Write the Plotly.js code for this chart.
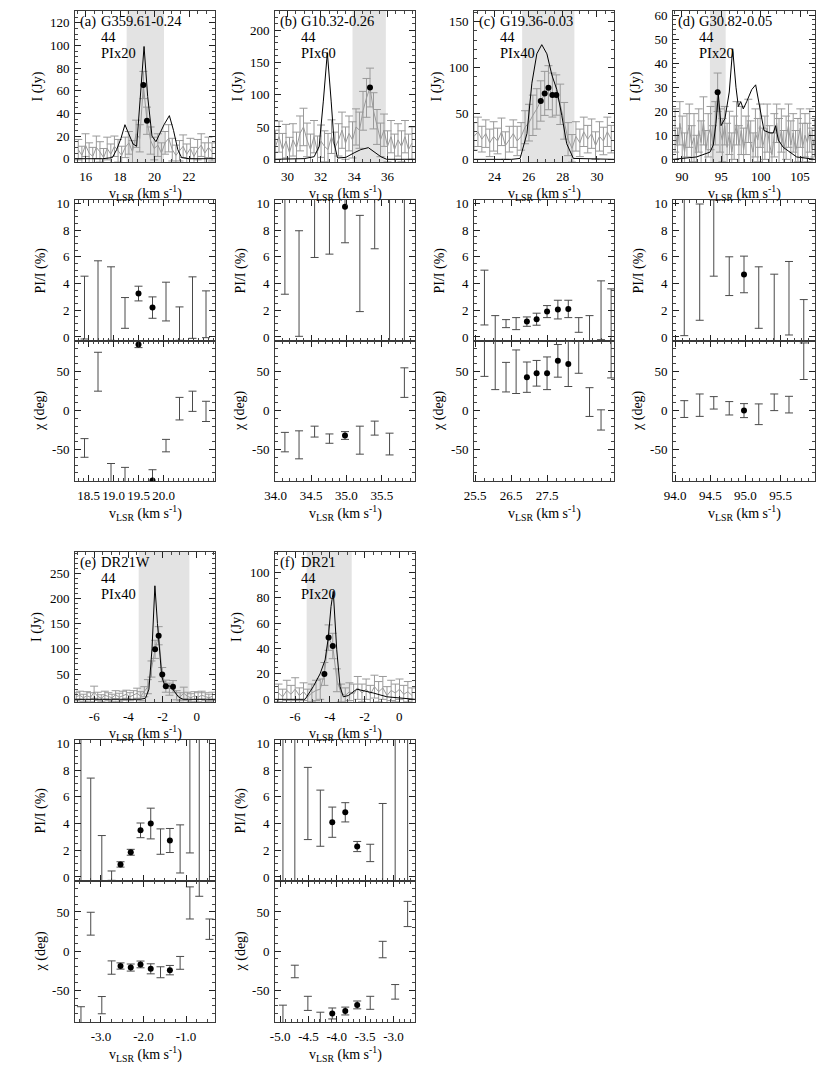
<!DOCTYPE html>
<html><head><meta charset="utf-8">
<script src="https://cdn.plot.ly/plotly-3.0.1.min.js"></script>
<style>html,body{margin:0;padding:0;background:#fff}#chart{width:830px;height:1081px}</style>
</head><body><div id="chart"></div>
<script>
// ---------------- panel texts ----------------
const panelLabels = ['(a)', '(b)', '(c)', '(d)', '(e)', '(f)'];
const panelNames = ['G359.61-0.24', 'G10.32-0.26', 'G19.36-0.03', 'G30.82-0.05', 'DR21W', 'DR21'];
const panelLine2 = ['44', '44', '44', '44', '44', '44'];
const panelFactor = ['PIx20', 'PIx60', 'PIx40', 'PIx20', 'PIx40', 'PIx20'];

// ---------------- shaded velocity ranges ----------------
const a_band = [18.38, 20.55];
const b_band = [33.9, 35.9];
const c_band = [25.62, 28.68];
const d_band = [93.55, 95.55];
const e_band = [-3.4, -0.43];
const f_band = [-5.33, -2.74];

// ---------------- Stokes I spectra (black) ----------------
const a_Iv = [15.38, 16.0, 17.0, 17.55, 17.8, 18.05, 18.28, 18.5, 18.75, 18.96, 19.17, 19.39, 19.6, 19.85, 20.08, 20.3, 20.55, 20.86, 21.1, 21.35, 21.57, 22.0, 23.51];
const a_I  = [0, 0, 0, 1, 8, 18, 30, 22, 13, 11, 50, 99, 55, 20, 15, 22, 30, 38, 25, 8, 1, 0, 0];
const b_Iv = [29.25, 31.0, 31.6, 31.9, 32.15, 32.39, 32.62, 32.8, 33.0, 33.5, 34.0, 34.4, 34.85, 35.2, 35.6, 35.95, 37.65];
const b_I  = [0, 1, 4, 20, 90, 165, 90, 25, 2, 3, 10, 15, 18, 12, 4, 0, 0];
const c_Iv = [22.8, 25.0, 25.5, 25.9, 26.19, 26.48, 26.77, 27.07, 27.36, 27.65, 27.94, 28.23, 28.62, 31.0];
const c_I  = [0, 0, 1, 28, 83, 115, 125, 115, 92, 76, 48, 17, 1, 0];
const d_Iv = [88.86, 91.86, 93.56, 93.98, 94.32, 94.62, 94.96, 95.46, 96.01, 96.44, 96.86, 97.16, 97.46, 97.79, 98.22, 98.86, 99.36, 99.78, 100.42, 101.18, 101.6, 101.9, 102.24, 102.87, 104.57, 106.9];
const d_I  = [0, 1, 3, 6, 15, 27, 14, 17, 28, 46, 30, 22, 24, 21, 24, 29, 31, 24, 12, 11, 11, 14, 8, 5, 1, 0];
const e_Iv = [-7.13, -3.3, -3.0, -2.8, -2.62, -2.45, -2.3, -2.15, -2.05, -1.9, -1.7, -1.5, -1.3, -1.05, -0.8, 1.07];
const e_I  = [0, 0, 2, 20, 100, 225, 150, 75, 45, 30, 27, 25, 15, 4, 0, 0];
const f_Iv = [-7.15, -5.42, -4.95, -4.56, -4.27, -4.08, -3.93, -3.80, -3.60, -3.41, -3.22, -2.93, -2.45, -2.07, -1.50, -0.72, 0.9];
const f_I  = [0, 0, 10, 20, 31, 49, 73, 85, 39, 10, 2, 3, 8, 7, 5, 2, 0];

// ---------------- scaled PI spectra (gray, with errors) ----------------
const a_Pv = [15.57, 15.78, 15.99, 16.20, 16.41, 16.62, 16.83, 17.04, 17.25, 17.46, 17.67, 17.88, 18.09, 18.30, 18.51, 18.72, 18.93, 19.14, 19.35, 19.56, 19.77, 19.98, 20.19, 20.40, 20.61, 20.82, 21.03, 21.24, 21.45, 21.66, 21.87, 22.08, 22.29, 22.50, 22.71, 22.92, 23.13, 23.34];
const a_P  = [8, 3, 12, 5, 2, 10, 6, 1, 9, 4, 11, 7, 3, 10, 14, 6, 22, 18, 65, 33.5, 16, 9, 12, 5, 14, 18, 8, 3, 7, 11, 4, 9, 2, 8, 12, 5, 10, 6];
const a_Pe = [9, 8, 10, 9, 8, 10, 9, 8, 10, 9, 9, 10, 8, 9, 10, 10, 12, 12, 12, 12, 12, 10, 10, 9, 10, 12, 10, 9, 9, 10, 9, 9, 8, 9, 10, 9, 9, 8];
const b_Pv = [29.28, 29.49, 29.70, 29.91, 30.12, 30.33, 30.54, 30.75, 30.96, 31.17, 31.38, 31.59, 31.80, 32.01, 32.22, 32.43, 32.64, 32.85, 33.06, 33.27, 33.48, 33.69, 33.90, 34.11, 34.32, 34.53, 34.74, 34.95, 35.16, 35.37, 35.58, 35.79, 36.00, 36.21, 36.42, 36.63, 36.84, 37.05, 37.26, 37.47];
const b_P  = [20, 35, 15, 28, 10, 30, 18, 40, 50, 30, 15, 35, 12, 28, 20, 15, 35, 18, 30, 45, 25, 40, 30, 50, 45, 75, 95, 111, 75, 50, 30, 45, 20, 35, 15, 30, 20, 35, 15, 25];
const b_Pe = [25, 24, 25, 26, 24, 25, 24, 27, 29, 26, 24, 25, 24, 25, 24, 25, 26, 24, 25, 28, 25, 27, 28, 28, 28, 30, 30, 30, 28, 27, 26, 25, 24, 25, 24, 25, 24, 25, 24, 25];
const c_Pv = [22.80, 23.03, 23.26, 23.49, 23.72, 23.95, 24.18, 24.41, 24.64, 24.87, 25.10, 25.33, 25.56, 25.79, 26.02, 26.25, 26.48, 26.71, 26.94, 27.16, 27.39, 27.62, 27.85, 28.08, 28.31, 28.54, 28.77, 29.00, 29.23, 29.46, 29.69, 29.92, 30.15, 30.38, 30.61, 30.84];
const c_P  = [25, 30, 22, 28, 18, 25, 20, 30, 15, 22, 28, 20, 25, 35, 40, 48, 55, 63.6, 71.9, 78.1, 70.1, 70.1, 60, 42, 22, 12, 25, 18, 30, 22, 28, 15, 25, 20, 30, 22];
const c_Pe = [15, 16, 14, 15, 15, 16, 14, 15, 15, 14, 15, 16, 15, 18, 20, 22, 22, 22, 24, 24, 24, 22, 22, 20, 18, 15, 16, 15, 16, 15, 16, 15, 16, 15, 16, 15];
const d_Pv = [89.13, 89.43, 89.73, 90.03, 90.33, 90.63, 90.93, 91.23, 91.53, 91.83, 92.13, 92.43, 92.73, 93.03, 93.33, 93.63, 93.93, 94.23, 94.53, 94.83, 95.13, 95.43, 95.73, 96.03, 96.33, 96.63, 96.93, 97.23, 97.53, 97.83, 98.13, 98.43, 98.73, 99.03, 99.33, 99.63, 99.93, 100.23, 100.53, 100.83, 101.13, 101.43, 101.73, 102.03, 102.33, 102.63, 102.93, 103.23, 103.53, 103.83, 104.13, 104.43, 104.73, 105.03, 105.33, 105.63, 105.93, 106.23, 106.53, 106.83];
const d_P  = [12, 5, 15, 8, 3, 10, 14, 6, 9, 2, 12, 7, 16, 4, 10, 13, 6, 15, 27.9, 12, 8, 14, 5, 11, 3, 9, 15, 6, 12, 4, 10, 16, 7, 3, 11, 8, 14, 5, 9, 13, 6, 2, 10, 15, 7, 12, 4, 9, 14, 6, 11, 3, 8, 13, 5, 10, 7, 12, 4, 9];
const d_Pe = [9, 8, 9, 10, 8, 9, 9, 8, 10, 8, 9, 9, 10, 8, 9, 9, 8, 9, 8, 9, 9, 8, 10, 9, 8, 9, 9, 8, 10, 9, 8, 9, 9, 8, 10, 9, 9, 8, 9, 10, 8, 9, 9, 8, 10, 9, 8, 9, 9, 10, 8, 9, 9, 8, 10, 9, 8, 9, 9, 8];
const e_Pv = [-7.06, -6.85, -6.64, -6.43, -6.22, -6.01, -5.80, -5.59, -5.38, -5.17, -4.96, -4.75, -4.54, -4.33, -4.12, -3.91, -3.70, -3.49, -3.28, -3.07, -2.86, -2.65, -2.44, -2.23, -2.02, -1.81, -1.60, -1.39, -1.18, -0.97, -0.76, -0.55, -0.34, -0.13, 0.08, 0.29, 0.50, 0.71, 0.92];
const e_P  = [5, 8, 3, 7, 4, 14, 6, 2, 8, 5, 3, 9, 4, 7, 10, 5, 8, 12, 6, 15, 25, 60, 99, 126, 49, 26, 20, 25, 8, 5, 12, 6, 3, 7, 4, 8, 5, 3, 6];
const e_Pe = [8, 8, 7, 8, 9, 12, 8, 7, 8, 8, 7, 8, 8, 9, 8, 8, 9, 10, 9, 10, 14, 16, 18, 18, 14, 12, 12, 12, 9, 8, 12, 8, 8, 8, 9, 8, 8, 7, 8];
const f_Pv = [-6.95, -6.71, -6.47, -6.23, -5.99, -5.75, -5.51, -5.27, -5.03, -4.79, -4.55, -4.31, -4.07, -3.83, -3.59, -3.35, -3.11, -2.87, -2.63, -2.39, -2.15, -1.91, -1.67, -1.43, -1.19, -0.95, -0.71, -0.47, -0.23, 0.01, 0.25, 0.49, 0.73];
const f_P  = [5, 2, 7, 4, 8, 3, 6, 2, 5, 7, 8, 20, 48.6, 42, 15, 5, 3, 6, 4, 9, 5, 8, 4, 10, 6, 9, 3, 7, 5, 8, 4, 6, 3];
const f_Pe = [7, 6, 8, 7, 9, 6, 7, 6, 7, 8, 8, 9, 10, 10, 9, 7, 6, 7, 8, 9, 7, 8, 7, 9, 8, 9, 7, 8, 7, 8, 7, 8, 6];

// ---------------- detected channels in the I panels (dots) ----------------
const a_dotv = [19.35, 19.56];                       const a_dotI = [65, 33.5];
const b_dotv = [34.95];                              const b_dotI = [111];
const c_dotv = [26.71, 26.94, 27.16, 27.39, 27.62];  const c_dotI = [63.6, 71.9, 78.1, 70.1, 70.1];
const d_dotv = [94.53];                              const d_dotI = [27.9];
const e_dotv = [-2.44, -2.23, -2.02, -1.81, -1.39];  const e_dotI = [99, 126, 49, 26, 25];
const f_dotv = [-4.31, -4.07, -3.83];                const f_dotI = [20, 48.6, 42];

// ---------------- PI/I (%) and chi (deg) per channel ----------------
const a_fv   = [18.42, 18.69, 18.95, 19.23, 19.50, 19.78, 20.05, 20.32, 20.58, 20.85];
const a_f    = [2.2, 2.3, 2.5, 1.8, 3.25, 2.2, 2.65, 1.0, 2.2, 1.7];
const a_fe   = [2.35, 3.4, 2.75, 1.15, 0.55, 0.8, 1.45, 1.25, 2.3, 1.75];
const a_chi  = [-48, 50, -85, -88, 85, -90, -45, 2.5, 12, -1];
const a_chie = [12, 25, 17, 15, 4, 14, 8, 14.5, 13, 13];
const a_sig  = [0, 0, 0, 0, 1, 1, 0, 0, 0, 0];

const b_fv   = [34.13, 34.33, 34.55, 34.76, 34.98, 35.19, 35.40, 35.61, 35.82];
const b_f    = [7.2, 4.0, 8.8, 8.3, 9.75, 5.5, 9.0, 6.1, 5.0];
const b_fe   = [4.0, 3.95, 2.85, 2.1, 2.7, 3.6, 2.4, 7.0, 8.0];
const b_chi  = [-40.5, -44, -27, -36, -32, -38, -22.5, -43, 36];
const b_chie = [12.5, 18, 7, 6, 5, 18, 9, 14, 19];
const b_sig  = [0, 0, 0, 0, 1, 0, 0, 0, 0];

const c_fv   = [25.76, 26.06, 26.36, 26.64, 26.94, 27.21, 27.50, 27.80, 28.09, 28.38, 28.68, 29.00, 29.28];
const c_f    = [2.95, 0.3, 1.0, 1.0, 1.15, 1.33, 1.9, 2.05, 2.1, 0.9, 0.1, 2.0, 1.5];
const c_fe   = [2.05, 1.3, 0.3, 0.45, 0.35, 0.45, 0.45, 0.7, 0.65, 0.55, 1.5, 2.2, 2.1];
const c_chi  = [68, 62, 43, 50, 43, 48, 48, 64, 60, 75, 11, -12, 70];
const c_chie = [24, 35, 19, 28, 19.5, 16.5, 21, 21, 29, 27, 18.5, 13, 28];
const c_sig  = [0, 0, 0, 0, 1, 1, 1, 1, 1, 0, 0, 0, 0];

const d_fv   = [94.13, 94.35, 94.55, 94.77, 94.98, 95.19, 95.41, 95.62, 95.83];
const d_f    = [6.8, 5.6, 7.4, 4.55, 4.68, 2.95, 1.7, 2.9, 0.8];
const d_fe   = [6.7, 4.35, 2.85, 1.45, 1.37, 2.3, 3.0, 2.75, 2.0];
const d_chi  = [2, 7, 10, 3, 0, -4.7, 10.7, 7.7, 63.5];
const d_chie = [10.8, 14.4, 8, 8.6, 9, 13.3, 10.7, 10.7, 23.5];
const d_sig  = [0, 0, 0, 0, 1, 0, 0, 0, 0];

const e_fv   = [-3.47, -3.24, -2.98, -2.75, -2.54, -2.30, -2.07, -1.83, -1.60, -1.38, -1.14, -0.91, -0.69, -0.45];
const e_f    = [5, 3.5, 1.3, 0.1, 0.94, 1.85, 3.49, 4.0, 2.65, 2.73, 2.1, 7.0, 5, 5];
const e_fe   = [8, 3.9, 1.8, 0.35, 0.2, 0.22, 0.55, 1.15, 0.95, 0.9, 1.8, 5.2, 8, 8];
const e_chi  = [-88, 35, -69, -21, -19, -21, -17, -22.6, -27, -24.3, -15, 61.5, 85, 28];
const e_chie = [17, 14.6, 11, 8.5, 4, 4.5, 4.3, 6.4, 7, 6, 8.2, 20.5, 15, 13];
const e_sig  = [0, 0, 0, 0, 1, 1, 1, 1, 0, 1, 0, 0, 0, 0];

const f_fv   = [-4.95, -4.74, -4.51, -4.29, -4.08, -3.85, -3.64, -3.41, -3.19, -2.97, -2.75];
const f_f    = [5, 5, 5.5, 4.4, 4.1, 4.84, 2.28, 1.8, 2.5, 5, 5];
const f_fe   = [8, 8, 2.7, 2.1, 1.13, 0.72, 0.38, 0.65, 3, 8, 8];
const f_chi  = [-85, -26, -66.7, -88, -79.6, -76.5, -68.7, -66, 2, -52, 47.4];
const f_chie = [16, 8, 9, 10, 7, 5, 5, 8.3, 10.5, 9.3, 16.1];
const f_sig  = [0, 0, 0, 0, 1, 1, 1, 0, 0, 0, 0];

// ---------------- tick labels ----------------
const a_fticks = [18.5, 19.0, 19.5, 20.0];
const b_fticks = [34.0, 34.5, 35.0, 35.5];
const c_fticks = [25.5, 26.5, 27.5];
const d_fticks = [94.0, 94.5, 95.0, 95.5];
const e_fticks = [-3.0, -2.0, -1.0];
const f_fticks = [-5.0, -4.5, -4.0, -3.5, -3.0];
const e_Iticks = [-6, -4, -2, 0];
const f_Iticks = [-6, -4, -2, 0];
const chiTicks = [-50, 0, 50];

// ---------------- assemble ----------------
const SER = [
  {band:a_band, Iv:a_Iv, I:a_I, Pv:a_Pv, P:a_P, Pe:a_Pe, dv:a_dotv, dI:a_dotI, fv:a_fv, f:a_f, fe:a_fe, chi:a_chi, chie:a_chie, sig:a_sig, ft:a_fticks, it:null},
  {band:b_band, Iv:b_Iv, I:b_I, Pv:b_Pv, P:b_P, Pe:b_Pe, dv:b_dotv, dI:b_dotI, fv:b_fv, f:b_f, fe:b_fe, chi:b_chi, chie:b_chie, sig:b_sig, ft:b_fticks, it:null},
  {band:c_band, Iv:c_Iv, I:c_I, Pv:c_Pv, P:c_P, Pe:c_Pe, dv:c_dotv, dI:c_dotI, fv:c_fv, f:c_f, fe:c_fe, chi:c_chi, chie:c_chie, sig:c_sig, ft:c_fticks, it:null},
  {band:d_band, Iv:d_Iv, I:d_I, Pv:d_Pv, P:d_P, Pe:d_Pe, dv:d_dotv, dI:d_dotI, fv:d_fv, f:d_f, fe:d_fe, chi:d_chi, chie:d_chie, sig:d_sig, ft:d_fticks, it:null},
  {band:e_band, Iv:e_Iv, I:e_I, Pv:e_Pv, P:e_P, Pe:e_Pe, dv:e_dotv, dI:e_dotI, fv:e_fv, f:e_f, fe:e_fe, chi:e_chi, chie:e_chie, sig:e_sig, ft:e_fticks, it:e_Iticks},
  {band:f_band, Iv:f_Iv, I:f_I, Pv:f_Pv, P:f_P, Pe:f_Pe, dv:f_dotv, dI:f_dotI, fv:f_fv, f:f_f, fe:f_fe, chi:f_chi, chie:f_chie, sig:f_sig, ft:f_fticks, it:f_Iticks}
];

// layout geometry (pixels) and axis ranges
const W = 830, H = 1081;
const COLS = [[75,215],[275,415],[474,614],[673,815],[75,215],[275,415]];
const ROWS = [{I:[11,162], P:[200,341], C:[341,481]}, {I:[552,702], P:[740,881], C:[881,1022]}];
const AX = [
  {row:0, Ix:[15.38,23.51], Ixd:2, Ixm:0.5, Iy:[-2.9,130.3], Iyd:20, Iym:5,  Fx:[18.23,21.03], Fxm:0.1},
  {row:0, Ix:[29.25,37.65], Ixd:2, Ixm:0.5, Iy:[-4.2,229.4], Iyd:50, Iym:10, Fx:[33.99,35.97], Fxm:0.1},
  {row:0, Ix:[22.8,31.0],   Ixd:2, Ixm:0.5, Iy:[-2.9,161.7], Iyd:50, Iym:10, Fx:[25.47,29.36], Fxm:0.25},
  {row:0, Ix:[88.86,106.9], Ixd:5, Ixm:1,   Iy:[-1.1,61.7],  Iyd:10, Iym:2,  Fx:[93.97,95.99], Fxm:0.1},
  {row:1, Ix:[-7.13,1.07],  Ixd:2, Ixm:0.5, Iy:[-5.4,292],   Iyd:50, Iym:10, Fx:[-3.61,-0.32], Fxm:0.25},
  {row:1, Ix:[-7.15,0.9],   Ixd:2, Ixm:0.5, Iy:[-2.1,116],   Iyd:20, Iym:5,  Fx:[-5.09,-2.62], Fxm:0.1}
];

const FONT = 'Liberation Serif';
const LINEC = '#3a3a3a';
function axis(o) {
  const base = {
    showline: true, linecolor: LINEC, linewidth: 1, mirror: 'allticks',
    ticks: 'inside', ticklen: 6, tickwidth: 1, tickcolor: '#222',
    showgrid: false, zeroline: false, fixedrange: true, tickangle: 0,
    tickfont: {family: FONT, size: 13, color: '#000'},
    ticklabelstandoff: 2
  };
  const minor = Object.assign({ticks: 'inside', ticklen: 3, tickwidth: 1, tickcolor: '#444', showgrid: false}, o.minor || {});
  const r = Object.assign(base, o);
  r.minor = minor;
  return r;
}
// hyphen-minus tick texts, as in the reference
const txt = (vals, dec) => vals.map(v => v.toFixed(dec));
const sfx = n => (n === 1 ? '' : String(n));

const traces = [], shapes = [], annotations = [];
const layout = {
  width: W, height: H, margin: {l:0, r:0, t:0, b:0}, showlegend: false,
  paper_bgcolor: '#fff', plot_bgcolor: 'rgba(0,0,0,0)',
  font: {family: FONT, size: 13, color: '#000'}
};
const XTITLE = 'v<sub>LSR</sub> (km s<sup>-1</sup>)';
const ERRC = '#4a4a4a';
const GRAY = '#9a9a9a';

SER.forEach((S, i) => {
  const A = AX[i], col = COLS[i], R = ROWS[A.row];
  const nI = i*3 + 1, nP = i*3 + 2, nC = i*3 + 3;
  const xd = [col[0]/W, col[1]/W];
  const dom = r => [1 - r[1]/H, 1 - r[0]/H];

  // ---- axes ----
  const ix = S.it ? {tickmode: 'array', tickvals: S.it, ticktext: txt(S.it, 0)} : {dtick: A.Ixd, tick0: 0};
  layout['xaxis' + sfx(nI)] = axis(Object.assign({domain: xd, range: A.Ix, anchor: 'y' + sfx(nI), minor: {dtick: A.Ixm, tick0: 0}}, ix));
  layout['yaxis' + sfx(nI)] = axis({domain: dom(R.I), range: A.Iy, dtick: A.Iyd, tick0: 0, anchor: 'x' + sfx(nI), minor: {dtick: A.Iym}});
  layout['xaxis' + sfx(nP)] = axis({domain: xd, range: A.Fx, tickmode: 'array', tickvals: S.ft, showticklabels: false, anchor: 'y' + sfx(nP), minor: {dtick: A.Fxm, tick0: 0}});
  layout['yaxis' + sfx(nP)] = axis({domain: dom(R.P), range: [-0.3, 10.25], dtick: 2, tick0: 0, anchor: 'x' + sfx(nP), minor: {dtick: 0.5}});
  layout['xaxis' + sfx(nC)] = axis({domain: xd, range: A.Fx, tickmode: 'array', tickvals: S.ft, ticktext: txt(S.ft, 1), anchor: 'y' + sfx(nC), minor: {dtick: A.Fxm, tick0: 0}});
  layout['yaxis' + sfx(nC)] = axis({domain: dom(R.C), range: [-90.5, 89.5], tickmode: 'array', tickvals: chiTicks, ticktext: txt(chiTicks, 0), anchor: 'x' + sfx(nC), minor: {dtick: 10, tick0: 0}});

  // ---- shaded range ----
  shapes.push({type: 'rect', xref: 'x' + sfx(nI), yref: 'y' + sfx(nI) + ' domain', x0: S.band[0], x1: S.band[1], y0: 0, y1: 1,
               fillcolor: '#e3e3e3', line: {width: 0}, layer: 'below'});

  // ---- I panel ----
  traces.push({x: S.Pv, y: S.P, xaxis: 'x' + sfx(nI), yaxis: 'y' + sfx(nI), mode: 'lines', line: {color: GRAY, width: 1},
               error_y: {type: 'data', array: S.Pe, visible: true, color: GRAY, thickness: 1, width: 4}, hoverinfo: 'skip'});
  traces.push({x: S.Iv, y: S.I, xaxis: 'x' + sfx(nI), yaxis: 'y' + sfx(nI), mode: 'lines', line: {color: '#000', width: 1}, hoverinfo: 'skip'});
  traces.push({x: S.dv, y: S.dI, xaxis: 'x' + sfx(nI), yaxis: 'y' + sfx(nI), mode: 'markers', marker: {color: '#000', size: 6}, hoverinfo: 'skip'});

  // ---- PI/I panel ----
  traces.push({x: S.fv, y: S.f, xaxis: 'x' + sfx(nP), yaxis: 'y' + sfx(nP), mode: 'markers', marker: {size: 1, color: ERRC, opacity: 0},
               error_y: {type: 'data', array: S.fe, visible: true, color: ERRC, thickness: 1, width: 4}, hoverinfo: 'skip'});
  const sx = [], sf = [], sc = [];
  S.sig.forEach((s, k) => { if (s) { sx.push(S.fv[k]); sf.push(S.f[k]); sc.push(S.chi[k]); } });
  traces.push({x: sx, y: sf, xaxis: 'x' + sfx(nP), yaxis: 'y' + sfx(nP), mode: 'markers', marker: {color: '#000', size: 6}, hoverinfo: 'skip'});

  // ---- chi panel ----
  traces.push({x: S.fv, y: S.chi, xaxis: 'x' + sfx(nC), yaxis: 'y' + sfx(nC), mode: 'markers', marker: {size: 1, color: ERRC, opacity: 0},
               error_y: {type: 'data', array: S.chie, visible: true, color: ERRC, thickness: 1, width: 4}, hoverinfo: 'skip'});
  traces.push({x: sx, y: sc, xaxis: 'x' + sfx(nC), yaxis: 'y' + sfx(nC), mode: 'markers', marker: {color: '#000', size: 6}, hoverinfo: 'skip'});

  // ---- texts ----
  const wI = col[1] - col[0], hI = R.I[1] - R.I[0];
  const hC = R.C[1] - R.C[0];
  const tf = {family: FONT, size: 14.5, color: '#000'};
  const xrI = 'x' + sfx(nI) + ' domain', yrI = 'y' + sfx(nI) + ' domain';
  annotations.push({xref: xrI, yref: yrI, x: 3/wI, y: 1 - 10/hI, xanchor: 'left', yanchor: 'middle', text: panelLabels[i], showarrow: false, font: tf});
  annotations.push({xref: xrI, yref: yrI, x: 24/wI, y: 1 - 10/hI, xanchor: 'left', yanchor: 'middle', text: panelNames[i], showarrow: false, font: tf});
  annotations.push({xref: xrI, yref: yrI, x: 24/wI, y: 1 - 26/hI, xanchor: 'left', yanchor: 'middle', text: panelLine2[i], showarrow: false, font: tf});
  annotations.push({xref: xrI, yref: yrI, x: 24/wI, y: 1 - 42/hI, xanchor: 'left', yanchor: 'middle', text: panelFactor[i], showarrow: false, font: tf});
  const at = {family: FONT, size: 14, color: '#000'};
  annotations.push({xref: xrI, yref: yrI, x: -38/wI, y: 0.5, textangle: -90, xanchor: 'center', yanchor: 'middle', text: 'I (Jy)', showarrow: false, font: at});
  annotations.push({xref: xrI, yref: yrI, x: 0.5, y: -31/hI, xanchor: 'center', yanchor: 'middle', text: XTITLE, showarrow: false, font: at});
  annotations.push({xref: 'x' + sfx(nP) + ' domain', yref: 'y' + sfx(nP) + ' domain', x: -35/wI, y: 0.5, textangle: -90, xanchor: 'center', yanchor: 'middle', text: 'PI/I (%)', showarrow: false, font: at});
  annotations.push({xref: 'x' + sfx(nC) + ' domain', yref: 'y' + sfx(nC) + ' domain', x: -35/wI, y: 0.5, textangle: -90, xanchor: 'center', yanchor: 'middle', text: 'χ (deg)', showarrow: false, font: at});
  annotations.push({xref: 'x' + sfx(nC) + ' domain', yref: 'y' + sfx(nC) + ' domain', x: 0.5, y: -32/hC, xanchor: 'center', yanchor: 'middle', text: XTITLE, showarrow: false, font: at});
});

layout.shapes = shapes;
layout.annotations = annotations;
Plotly.newPlot('chart', traces, layout, {staticPlot: true, displayModeBar: false});
</script></body></html>
